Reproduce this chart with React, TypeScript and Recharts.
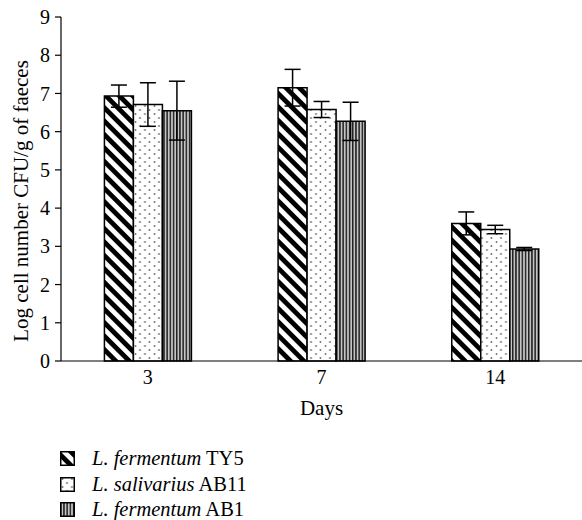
import React from 'react';
import { BarChart, Bar, XAxis, YAxis, ErrorBar, Legend, Label } from 'recharts';

const days = ['3', '7', '14'];
const ty5 = [6.93, 7.15, 3.6];
const ty5Err = [0.29, 0.48, 0.3];
const ab11 = [6.71, 6.58, 3.44];
const ab11Err = [0.57, 0.21, 0.11];
const ab1 = [6.55, 6.27, 2.93];
const ab1Err = [0.77, 0.5, 0.04];
const yTicks = [0, 1, 2, 3, 4, 5, 6, 7, 8, 9];

const series = [
  { key: 'ty5', pat: 'url(#patDiag)', species: 'L. fermentum', strain: 'TY5' },
  { key: 'ab11', pat: 'url(#patDots)', species: 'L. salivarius', strain: 'AB11' },
  { key: 'ab1', pat: 'url(#patVert)', species: 'L. fermentum', strain: 'AB1' },
];

const data = days.map((d, i) => ({
  day: d,
  ty5: ty5[i],
  ty5Err: ty5Err[i],
  ab11: ab11[i],
  ab11Err: ab11Err[i],
  ab1: ab1[i],
  ab1Err: ab1Err[i],
}));

const FONT = '"Liberation Serif", "Times New Roman", serif';

const LegendContent = () => (
  <div
    style={{
      paddingLeft: 60,
      paddingTop: 4,
      height: 78,
      boxSizing: 'border-box',
      fontFamily: FONT,
      fontSize: 20.5,
      color: '#000',
    }}
  >
    {series.map((s) => (
      <div key={s.key} style={{ height: 25.5, display: 'flex', alignItems: 'center' }}>
        <svg width={15} height={15} style={{ marginRight: 17, flex: 'none' }}>
          <rect x={0.75} y={0.75} width={13.5} height={13.5} fill={s.pat} stroke="#000" strokeWidth={1.5} />
        </svg>
        <span>
          <i>{s.species}</i> {s.strain}
        </span>
      </div>
    ))}
  </div>
);

const YLabel = (props: any) => {
  const vb = props.viewBox || { x: 0, y: 0, width: 0, height: 0 };
  const cx = vb.x + 21;
  const cy = vb.y + vb.height / 2 + 12;
  return (
    <text
      x={cx}
      y={cy}
      transform={`rotate(-90, ${cx}, ${cy})`}
      textAnchor="middle"
      dominantBaseline="central"
      fontFamily={FONT}
      fontSize={21}
      fill="#000"
    >
      Log cell number CFU/g of faeces
    </text>
  );
};

const XLabel = (props: any) => {
  const vb = props.viewBox || { x: 0, y: 0, width: 0, height: 0 };
  const cx = vb.x + vb.width / 2;
  const cy = vb.y + 47;
  return (
    <text x={cx} y={cy} textAnchor="middle" dominantBaseline="central" fontFamily={FONT} fontSize={21} fill="#000">
      Days
    </text>
  );
};

export default function App() {
  return (
    <div style={{ position: 'absolute', left: 0, top: 0, width: 582, height: 520, background: '#fff' }}>
      <BarChart
        width={582}
        height={520}
        data={data}
        margin={{ top: 17, right: 0, bottom: 0, left: 0 }}
        barCategoryGap="25%"
        barGap={0}
      >
        <defs>
          <pattern id="patDiag" patternUnits="userSpaceOnUse" width={9.5} height={9.5} patternTransform="rotate(45)">
            <rect x={0} y={0} width={9.5} height={9.5} fill="#fff" />
            <rect x={0} y={0} width={9.5} height={4.8} fill="#000" />
          </pattern>
          <pattern id="patDots" patternUnits="userSpaceOnUse" width={9.5} height={8}>
            <rect x={0} y={0} width={9.5} height={8} fill="#fff" />
            <circle cx={2.5} cy={2} r={0.9} fill="#666" />
            <circle cx={7} cy={6} r={0.9} fill="#666" />
          </pattern>
          <pattern id="patVert" patternUnits="userSpaceOnUse" width={3.2} height={10}>
            <rect x={0} y={0} width={3.2} height={10} fill="#c4c4c4" />
            <rect x={0} y={0} width={1.5} height={10} fill="#222" />
          </pattern>
        </defs>
        <XAxis
          dataKey="day"
          height={81}
          tickLine={false}
          tickSize={6}
          tickMargin={3}
          axisLine={{ stroke: '#000', strokeWidth: 1.2 }}
          tick={{ fill: '#000', fontFamily: FONT, fontSize: 20 }}
        >
          <Label content={<XLabel />} />
        </XAxis>
        <YAxis
          width={61}
          domain={[0, 9]}
          ticks={yTicks}
          interval={0}
          tickSize={6}
          tickMargin={5}
          axisLine={{ stroke: '#000', strokeWidth: 1.2 }}
          tickLine={{ stroke: '#000', strokeWidth: 1.2 }}
          tick={{ fill: '#000', fontFamily: FONT, fontSize: 20 }}
        >
          <Label content={<YLabel />} />
        </YAxis>
        <Legend layout="horizontal" verticalAlign="bottom" align="left" content={<LegendContent />} />
        {series.map((s) => (
          <Bar key={s.key} dataKey={s.key} fill={s.pat} stroke="#000" strokeWidth={1.5} isAnimationActive={false}>
            <ErrorBar dataKey={`${s.key}Err`} width={8} stroke="#000" strokeWidth={1.5} />
          </Bar>
        ))}
      </BarChart>
    </div>
  );
}
